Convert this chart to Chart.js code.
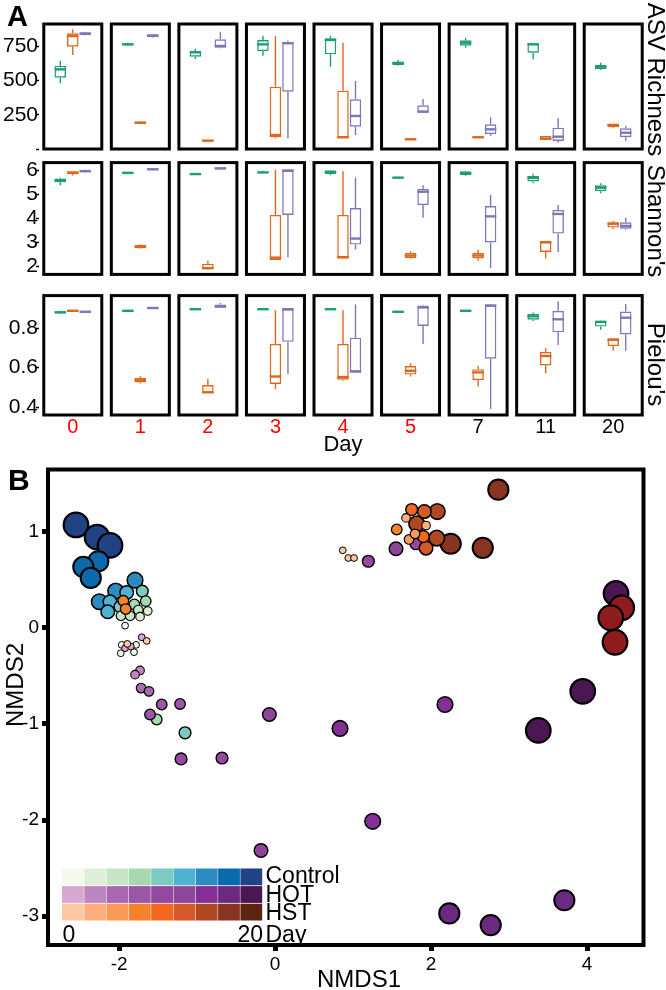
<!DOCTYPE html>
<html><head><meta charset="utf-8">
<script src="https://cdn.jsdelivr.net/npm/chart.js"></script>
<style>
html,body{margin:0;padding:0;background:#fff;}
#wrap{position:relative;width:666px;height:990px;overflow:hidden;background:#fff;}
canvas{position:absolute;left:0;}
</style></head><body>
<div id="wrap">
<canvas id="asv" width="666" height="160" style="top:0px"></canvas>
<canvas id="sha" width="666" height="133" style="top:152px"></canvas>
<canvas id="pie" width="666" height="175" style="top:285px"></canvas>
<canvas id="nmds" width="666" height="535" style="top:455px"></canvas>
</div>
<script>
// ---------- Panel A data: [min, q1, median, q3, max] per day ----------
const days = ['0','1','2','3','4','5','7','11','20'];
const dayNums = [0,1,2,3,4,5,7,11,20];

const asvControl = [[481,522,583,610,644],[756,759,766,774,778],[659,676,708,717,732],[683,717,766,798,829],[602,693,798,810,829],[610,613,630,637,651],[742,756,778,796,815],[657,705,766,774,776],[578,583,602,615,632]];
const asvHST = [[688,749,827,847,876],[183,185,193,200,203],[57,59,61,64,66],[78,86,102,456,827],[83,83,86,427,778],[66,68,71,74,76],[81,83,86,90,93],[70,71,75,95,96],[152,159,176,183,185]];
const asvHOT = [[830,834,844,854,858],[815,818,829,840,842],[737,742,754,803,859],[78,419,774,781,793],[102,163,242,364,498],[269,269,273,320,366],[95,108,144,181,232],[46,59,90,156,225],[61,86,119,152,168]];

const shannonControl = [[5.38,5.51,5.57,5.66,5.71],[5.87,5.88,5.90,5.92,5.93],[5.82,5.83,5.85,5.87,5.88],[5.89,5.90,5.92,5.93,5.99],[5.80,5.85,5.94,6.00,6.02],[5.68,5.69,5.70,5.71,5.72],[5.78,5.81,5.90,5.96,5.98],[5.47,5.54,5.69,5.78,5.86],[5.05,5.13,5.28,5.38,5.47]];
const shannonHST = [[5.79,5.84,5.90,5.97,5.98],[2.73,2.75,2.80,2.88,2.90],[1.86,1.88,1.91,2.10,2.22],[2.25,2.25,2.35,4.14,6.03],[2.30,2.32,2.37,4.14,5.97],[2.32,2.34,2.44,2.55,2.62],[2.22,2.32,2.44,2.55,2.68],[2.32,2.59,2.99,3.05,3.05],[3.55,3.61,3.77,3.83,3.89]];
const shannonHOT = [[5.92,5.94,5.97,6.03,6.04],[6.01,6.02,6.05,6.08,6.09],[6.03,6.04,6.09,6.11,6.12],[2.37,4.14,6.00,6.00,6.00],[2.69,2.90,3.15,4.43,5.71],[4.02,4.55,5.11,5.23,5.38],[1.91,2.99,4.08,4.51,4.97],[2.59,3.36,4.18,4.35,4.55],[3.52,3.56,3.68,3.83,4.02]];

const pielouControl = [[0.872,0.875,0.880,0.886,0.888],[0.884,0.886,0.888,0.890,0.891],[0.892,0.894,0.896,0.898,0.899],[0.893,0.895,0.896,0.897,0.898],[0.893,0.895,0.896,0.897,0.898],[0.880,0.882,0.883,0.884,0.886],[0.884,0.886,0.888,0.890,0.892],[0.836,0.843,0.860,0.872,0.880],[0.792,0.808,0.832,0.836,0.838]];
const pielouHST = [[0.886,0.887,0.888,0.889,0.890],[0.520,0.525,0.536,0.549,0.557],[0.471,0.471,0.475,0.512,0.544],[0.490,0.517,0.555,0.720,0.891],[0.533,0.539,0.552,0.720,0.891],[0.555,0.565,0.584,0.608,0.624],[0.504,0.536,0.576,0.592,0.608],[0.571,0.611,0.659,0.680,0.700],[0.685,0.709,0.741,0.749,0.750]];
const pielouHOT = [[0.880,0.882,0.883,0.886,0.887],[0.899,0.900,0.902,0.904,0.905],[0.902,0.904,0.910,0.920,0.928],[0.568,0.731,0.896,0.896,0.896],[0.576,0.580,0.580,0.752,0.920],[0.720,0.811,0.907,0.907,0.915],[0.390,0.645,0.915,0.915,0.915],[0.715,0.779,0.845,0.888,0.936],[0.685,0.768,0.853,0.884,0.923]];

const asvTicks = [0,250,500,750];
const shannonTicks = [2,3,4,5,6];
const pielouTicks = [0.4,0.6,0.8];

// ---------- Panel B data (NMDS) ----------
const ctrlX   = [-2.553,-2.283,-2.117, -2.267,-2.459,-2.364, -1.796,-2.044,-2.254, -1.903,-2.117,-2.146, -1.703,-1.988,-1.155, -1.805,-1.659,-1.518, -1.754,-1.976,-1.860, -1.633,-1.732, -1.924,-1.967,-1.979,-1.809,-1.783];
const ctrlY   = [1.068,0.941,0.855, 0.690,0.631,0.517, 0.493,0.380,0.269, 0.365,0.269,0.165, 0.380,0.217,-1.093, 0.241,0.276,-0.955, 0.183,0.124,0.124, 0.173,0.114, 0.021,-0.179,-0.266,-0.255,-0.179];
const ctrlDay = [20,20,20, 11,11,11, 7,7,7, 5,5,5, 4,4,4, 3,3,3, 2,2,2, 1,1, 0,0,0,0,0];

const hotX   = [-1.710,-1.924,-1.851, -1.732,-1.796, -1.719,-1.617, -1.604,-1.454,-1.219, -1.206,-0.681,1.195,1.806, -0.181,-0.074,1.550, 0.832,1.251,2.178, 2.233,2.764,3.708, 4.371,3.944,3.374];
const hotY   = [-0.100,-0.214,-0.196, -0.445,-0.489, -0.628,-0.662, -0.903,-0.799,-0.793, -1.365,-1.355,0.690,0.872, -2.316,-0.903,0.820, -1.048,-2.013,-0.799, -2.971,-3.092,-2.834, 0.355,-0.662,-1.068];
const hotDay = [0,0,0, 1,1, 2,2, 3,3,3, 4,4,4,4, 5,5,5, 7,7,7, 11,11,11, 20,20,20];

const hstX   = [-1.646,-1.895,0.867,0.938,1.012, 1.678,1.935, 1.717,1.794, 1.559,-1.946,-1.915, 1.751,1.900, 1.913,1.935, 2.079,1.815,2.072, 2.862,2.251,2.662, 4.444,4.303,4.358];
const hstY   = [-0.138,-0.169,0.804,0.724,0.724, 1.141,1.062, 0.917,0.975, 1.021,0.279,0.193, 1.228,0.948, 1.207,0.827, 1.207,1.079,0.931, 1.434,0.872,0.830, 0.207,0.103,-0.152];
const hstDay = [0,0,0,0,0, 1,1, 2,2, 3,3,3, 4,4, 5,5, 7,7,7, 11,11,11, 20,20,20];

const nmdsXTicks = [-2,0,2,4];
const nmdsYTicks = [-3,-2,-1,0,1];
const keyRows = ['Control','HOT','HST'];

// ---------- styles ----------
const FONT = "'Liberation Sans', Arial, Helvetica, sans-serif";
Chart.defaults.font.family = FONT;
Chart.defaults.color = '#000';
const boxColors = {Control:'#1b9e77', HST:'#e0661a', HOT:'#7d77ba'};
const ctrlPal = ['#f4f9ee','#deefd9','#c8e6c3','#a6d8b2','#7dcac3','#4eb2d3','#2b8bbf','#0b69ad','#1f4384'];
const hotPal  = ['#d6a8d2','#be86c0','#ab68b2','#9d56a7','#95489f','#8e469b','#842f95','#6b2a7f','#4a1752'];
const hstPal  = ['#fdc9a3','#fcae7d','#f99a56','#f6832c','#f3681e','#d65a28','#b04723','#873520','#5b2610'];
const hstPointPal = hstPal.slice(0,8).concat(['#8e1c1f']);
const radiusByDay = [3.4,4.3,4.8,5.3,5.9,6.8,7.8,10.1,12.3];
const borderByDay = [1,1.1,1.2,1.3,1.4,1.5,1.6,2,2.2];

function makeTextPlugin(items){
  return {id:'texts', afterDraw(chart){
    const ctx = chart.ctx;
    items.forEach(t=>{
      ctx.save();
      ctx.font = (t.bold?'bold ':'') + t.size + 'px ' + FONT;
      ctx.fillStyle = '#000';
      ctx.textAlign = t.align || 'left';
      ctx.textBaseline = 'alphabetic';
      ctx.translate(t.x, t.y);
      if (t.rot) ctx.rotate(t.rot);
      ctx.fillText(t.text, 0, 0);
      ctx.restore();
    });
  }};
}

const framePlugin = {id:'frames', beforeDatasetsDraw(chart){
  const {ctx, chartArea:a, scales:{x}} = chart;
  ctx.save(); ctx.strokeStyle = '#000'; ctx.lineWidth = 3;
  days.forEach((d,i)=>{ const cx = x.getPixelForValue(i); ctx.strokeRect(cx-29, a.top, 58, a.bottom-a.top); });
  ctx.restore();
}};

const boxPlugin = {id:'boxWhisk', afterDatasetsDraw(chart){
  const ctx = chart.ctx, y = chart.scales.y;
  chart.data.datasets.forEach((ds, di)=>{
    const meta = chart.getDatasetMeta(di);
    meta.data.forEach((bar, i)=>{
      const s = ds.stats[i];
      const hw = bar.width/2;
      ctx.save();
      ctx.strokeStyle = ds.borderColor;
      ctx.lineWidth = 1.4;
      ctx.beginPath();
      ctx.moveTo(bar.x, y.getPixelForValue(s[3])); ctx.lineTo(bar.x, y.getPixelForValue(s[4]));
      ctx.moveTo(bar.x, y.getPixelForValue(s[1])); ctx.lineTo(bar.x, y.getPixelForValue(s[0]));
      ctx.stroke();
      ctx.lineWidth = 2.4;
      const ym = y.getPixelForValue(s[2]);
      ctx.beginPath(); ctx.moveTo(bar.x-hw, ym); ctx.lineTo(bar.x+hw, ym); ctx.stroke();
      ctx.restore();
    });
  });
}};

function makeBoxChart(id, series, yMin, yMax, ticks, texts, showX, padTop, padBottom){
  const datasets = series.map(([name, arr])=>({
    label: name,
    data: arr.map(s=>[s[1], s[3]]),
    stats: arr,
    borderColor: boxColors[name],
    backgroundColor: 'rgba(0,0,0,0)',
    borderWidth: 1.4,
    borderSkipped: false,
    categoryPercentage: 0.555,
    barPercentage: 0.92
  }));
  return new Chart(document.getElementById(id), {
    type: 'bar',
    data: {labels: days, datasets},
    options: {
      responsive: false, animation: false,
      events: [],
      layout: {padding: {top: padTop, bottom: padBottom, left: 0, right: 19}},
      plugins: {legend: {display:false}, tooltip: {enabled:false}},
      scales: {
        x: {
          display: showX,
          grid: {display:false, drawTicks:false, tickLength:0}, border: {display:false},
          afterFit: s=>{ s.height = showX ? 45 : 0; },
          ticks: {autoSkip:false, maxRotation:0, padding:0, font:{size:20},
                  color: c => (c.index < 6 ? '#ff0000' : '#000')},
          title: {display:true, text:'Day', font:{size:22}, color:'#000', padding:{top:0, bottom:2}}
        },
        y: {
          min: yMin, max: yMax,
          afterFit: s=>{ s.width = 39; },
          afterBuildTicks: s=>{ s.ticks = ticks.map(v=>({value:v})); },
          grid: {display:true, drawOnChartArea:false, drawTicks:true, tickLength:3, tickWidth:1.5, tickColor:'#000'},
          border: {display:false},
          ticks: {autoSkip:false, font:{size:21}, color:'#000', padding:-2, callback: v => (v === 0 ? '' : v)}
        }
      }
    },
    plugins: [framePlugin, boxPlugin, makeTextPlugin(texts)]
  });
}

makeBoxChart('asv', [['Control',asvControl],['HST',asvHST],['HOT',asvHOT]], 0, 915, asvTicks,
  [{text:'A', x:7, y:26, size:29, bold:true}, {text:'ASV Richness', x:648, y:79.5, size:24, rot:Math.PI/2, align:'center'}],
  false, 24, 11);
makeBoxChart('sha', [['Control',shannonControl],['HST',shannonHST],['HOT',shannonHOT]], 1.65, 6.33, shannonTicks,
  [{text:"Shannon's", x:648, y:69, size:24, rot:Math.PI/2, align:'center'}],
  false, 4, 3);
makeBoxChart('pie', [['Control',pielouControl],['HST',pielouHST],['HOT',pielouHOT]], 0.36, 0.965, pielouTicks,
  [{text:"Pielou's", x:648, y:79.5, size:24, rot:Math.PI/2, align:'center'}],
  true, 4, 0);

// ---------- Panel B ----------
function buildPoints(xs, ys, ds, pal){
  const idx = xs.map((_,i)=>i).sort((a,b)=>ds[b]-ds[a]);
  const di = i => dayNums.indexOf(ds[i]);
  return {
    data: idx.map(i=>({x:xs[i], y:ys[i]})),
    pointBackgroundColor: idx.map(i=>pal[di(i)]),
    pointRadius: idx.map(i=>radiusByDay[di(i)]),
    pointBorderWidth: idx.map(i=>borderByDay[di(i)]),
    pointBorderColor: '#000',
    pointHoverRadius: idx.map(i=>radiusByDay[di(i)])
  };
}

const nmdsFrame = {id:'nmdsFrame', afterDatasetsDraw(chart){
  const {ctx, chartArea:a} = chart;
  ctx.save(); ctx.strokeStyle='#000'; ctx.lineWidth=4;
  ctx.strokeRect(a.left, a.top, a.right-a.left, a.bottom-a.top);
  ctx.restore();
}};

const colorKey = {id:'colorKey', afterDraw(chart){
  const ctx = chart.ctx;
  const x0 = 62, w = 22.3, y0 = 413.5, h = 17.6;
  [ctrlPal, hotPal, hstPal].forEach((pal, r)=>{
    pal.forEach((c, i)=>{ ctx.fillStyle = c; ctx.fillRect(x0 + i*w, y0 + r*h, w - 0.5, h - 0.8); });
  });
}};

new Chart(document.getElementById('nmds'), {
  type: 'scatter',
  data: {datasets: [
    Object.assign({label:'HST'}, buildPoints(hstX, hstY, hstDay, hstPointPal)),
    Object.assign({label:'HOT'}, buildPoints(hotX, hotY, hotDay, hotPal)),
    Object.assign({label:'Control'}, buildPoints(ctrlX, ctrlY, ctrlDay, ctrlPal))
  ]},
  options: {
    responsive:false, animation:false, events: [],
    layout: {padding:{top:12, right:22.5, left:0, bottom:0}},
    plugins: {legend:{display:false}, tooltip:{enabled:false}},
    scales: {
      x: {type:'linear', min:-2.912, max:4.723,
          afterFit: s=>{ s.height = 45; },
          afterBuildTicks: s=>{ s.ticks = nmdsXTicks.map(v=>({value:v})); },
          grid:{display:true, drawOnChartArea:false, drawTicks:true, tickLength:6, tickWidth:5, tickColor:'#000'},
          border:{display:false},
          ticks:{font:{size:19}, color:'#000', padding:2, maxRotation:0}},
      y: {type:'linear', min:-3.299, max:1.644,
          afterFit: s=>{ s.width = 48; },
          afterBuildTicks: s=>{ s.ticks = nmdsYTicks.map(v=>({value:v})); },
          grid:{display:true, drawOnChartArea:false, drawTicks:true, tickLength:6, tickWidth:5, tickColor:'#000'},
          border:{display:false},
          ticks:{font:{size:19}, color:'#000', padding:3}}
    }
  },
  plugins: [nmdsFrame, colorKey, makeTextPlugin([
    {text:'B', x:8, y:35, size:30, bold:true},
    {text:'NMDS1', x:359, y:532, size:24, align:'center'},
    {text:'NMDS2', x:23, y:230, size:24, rot:-Math.PI/2, align:'center'},
    {text:keyRows[0], x:265.5, y:428.3, size:23},
    {text:keyRows[1], x:265.5, y:446.7, size:23},
    {text:keyRows[2], x:265.5, y:465, size:23},
    {text:'Day', x:265.5, y:486.7, size:23},
    {text:'0', x:62.5, y:486.7, size:23},
    {text:'20', x:263, y:486.7, size:23, align:'right'}
  ])]
});
</script>
</body></html>
